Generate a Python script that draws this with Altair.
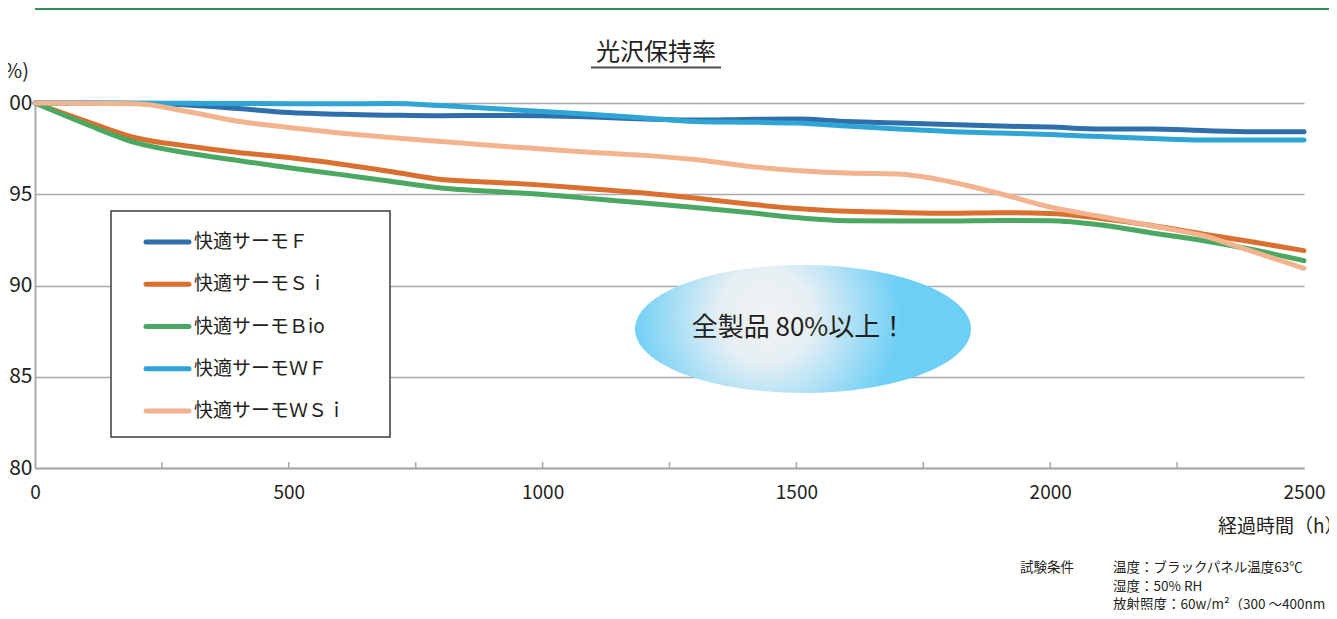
import altair as alt
import pandas as pd

hours = [0, 100, 200, 300, 400, 500, 600, 700, 800, 900, 1000, 1100, 1200,
         1300, 1400, 1500, 1600, 1700, 1800, 1900, 2000, 2100, 2200, 2300, 2400, 2500]

series = ["快適サーモＦ", "快適サーモＳｉ", "快適サーモＢio", "快適サーモＷＦ", "快適サーモＷＳｉ"]
colors = ["#2e6fac", "#d9702f", "#4aa862", "#2ea5d4", "#f2b38f"]

val_f = [100, 100, 99.97, 99.89, 99.70, 99.48, 99.38, 99.33, 99.30, 99.32, 99.30, 99.23, 99.13,
         99.07, 99.10, 99.12, 98.99, 98.90, 98.82, 98.74, 98.68, 98.58, 98.58, 98.49, 98.43, 98.43]
val_si = [100, 99.01, 98.08, 97.64, 97.29, 97.01, 96.66, 96.25, 95.81, 95.66, 95.50, 95.29, 95.07,
          94.79, 94.48, 94.22, 94.07, 94.00, 93.96, 93.99, 93.95, 93.67, 93.29, 92.83, 92.38, 91.91]
val_bio = [100, 98.85, 97.81, 97.26, 96.85, 96.45, 96.09, 95.71, 95.34, 95.16, 94.99, 94.75, 94.52,
           94.27, 94.01, 93.72, 93.55, 93.53, 93.53, 93.56, 93.55, 93.32, 92.88, 92.47, 91.96, 91.36]
val_wf = [100, 100, 100, 99.98, 99.97, 99.96, 99.96, 99.97, 99.86, 99.70, 99.53, 99.37, 99.18,
          98.99, 98.95, 98.90, 98.74, 98.58, 98.44, 98.36, 98.27, 98.16, 98.05, 97.97, 97.97, 97.97]
val_wsi = [100, 99.98, 99.96, 99.53, 99.00, 98.66, 98.36, 98.11, 97.89, 97.67, 97.48, 97.29, 97.13,
           96.90, 96.55, 96.30, 96.16, 96.11, 95.70, 95.04, 94.30, 93.78, 93.27, 92.74, 91.85, 90.94]

x_ticks = [0, 500, 1000, 1500, 2000, 2500]
minor_ticks = [250, 750, 1250, 1750, 2250, 500, 1000, 1500, 2000]
y_ticks = [80, 85, 90, 95, 100]

title_text = "光沢保持率"
y_unit = "(%)"
x_title = "経過時間（h）"
bubble_text = "全製品 80%以上！"
cond_label = "試験条件"
cond_lines = ["温度：ブラックパネル温度63℃", "湿度：50% RH", "放射照度：60w/m²（300 ～400nm"]

FONT = "Noto Sans CJK JP"
TXT = "#231f20"
GRAY = "#a7a9ac"

all_vals = [val_f, val_si, val_bio, val_wf, val_wsi]
rows = []
for name, vals in zip(series, all_vals):
    for h, v in zip(hours, vals):
        rows.append({"hour": h, "value": v, "series": name})
df = pd.DataFrame(rows)

color_scale = alt.Scale(domain=series, range=colors)
xscale = alt.Scale(domain=[0, 2500], nice=False, zero=False)
yscale = alt.Scale(domain=[80, 100], nice=False, zero=False)

lines = alt.Chart(df).mark_line(interpolate="monotone", strokeWidth=5, strokeCap="round").encode(
    x=alt.X("hour:Q", scale=xscale,
            axis=alt.Axis(values=x_ticks, title=None, grid=False, ticks=False, labelFontSize=19,
                          labelPadding=15, labelFlush=False, labelColor=TXT, labelFont=FONT,
                          domainColor=GRAY, domainWidth=2, format="d")),
    y=alt.Y("value:Q", scale=yscale,
            axis=alt.Axis(values=y_ticks, title=None, grid=True, gridColor=GRAY, gridWidth=1.5,
                          ticks=False, labelFontSize=21, labelPadding=3, labelColor=TXT,
                          labelFont=FONT, domainColor=GRAY, domainWidth=2, labelBaseline="middle",
                          format="d")),
    color=alt.Color("series:N", scale=color_scale, legend=None),
    detail="series:N",
)

tick_df = pd.DataFrame({"hour": minor_ticks})
ticks = alt.Chart(tick_df).mark_rule(color=GRAY, strokeWidth=1.5).encode(
    x=alt.X("hour:Q", scale=xscale),
    y=alt.Y(datum=80, scale=yscale),
    y2=alt.Y2(datum=80.33),
)

data_layer = alt.layer(lines, ticks)

one = pd.DataFrame({"k": [0]})

legend_box = alt.Chart(one).mark_rect(fill="white", stroke="#3b3b3b", strokeWidth=1.5).encode(
    x=alt.value(76), x2=alt.value(355), y=alt.value(108), y2=alt.value(334)
)

leg_df = pd.DataFrame({"series": series})
leg_y = alt.Y("series:N", sort=series,
              scale=alt.Scale(type="point", domain=series, range=[139, 308], padding=0),
              axis=None)
legend_lines = alt.Chart(leg_df).mark_rule(strokeWidth=5, strokeCap="round").encode(
    x=alt.value(111), x2=alt.value(154), y=leg_y,
    color=alt.Color("series:N", scale=color_scale, legend=None),
)
legend_text = alt.Chart(leg_df).mark_text(align="left", baseline="middle", fontSize=19,
                                          font=FONT, color=TXT).encode(
    x=alt.value(159), y=leg_y, text="series:N"
)

ellipse_path = ("M -1 0 C -1 -0.2104 -0.5523 -0.381 0 -0.381 C 0.5523 -0.381 1 -0.2104 1 0 "
                "C 1 0.2104 0.5523 0.381 0 0.381 C -0.5523 0.381 -1 0.2104 -1 0 Z")
grad = alt.RadialGradient(
    gradient="radial",
    stops=[alt.GradientStop(offset=0, color="#f1f2f3"),
           alt.GradientStop(offset=0.35, color="#e6eff4"),
           alt.GradientStop(offset=1, color="#6dcff6")],
    x1=0.39, y1=0.46, r1=0, x2=0.39, y2=0.46, r2=0.4,
)
bubble = alt.Chart(one).mark_point(shape=ellipse_path, size=112896, filled=True, fill=grad,
                                   opacity=1, strokeWidth=0).encode(
    x=alt.value(768), y=alt.value(226)
)
bubble_label = alt.Chart(one).mark_text(text=bubble_text, fontSize=26, font=FONT, color=TXT,
                                        align="center", baseline="middle").encode(
    x=alt.value(764), y=alt.value(225)
)

top_rule = alt.Chart(one).mark_rule(color="#2f9160", strokeWidth=2).encode(
    x=alt.value(0), x2=alt.value(1300), y=alt.value(-94)
)
title = alt.Chart(one).mark_text(text=title_text, fontSize=24, font=FONT, color=TXT,
                                 align="center", baseline="middle").encode(
    x=alt.value(621), y=alt.value(-50)
)
underline = alt.Chart(one).mark_rule(color="#4d4d4d", strokeWidth=2).encode(
    x=alt.value(556), x2=alt.value(686), y=alt.value(-35.5)
)
yunit = alt.Chart(one).mark_text(text=y_unit, fontSize=20, font=FONT, color=TXT,
                                 align="right", baseline="middle").encode(
    x=alt.value(-6), y=alt.value(-31)
)
xtitle = alt.Chart(one).mark_text(text=x_title, fontSize=19, font=FONT, color=TXT,
                                  align="left", baseline="middle").encode(
    x=alt.value(1183), y=alt.value(424)
)
cond1 = alt.Chart(one).mark_text(text=cond_label, fontSize=13.5, font=FONT, color=TXT,
                                 align="left", baseline="middle").encode(
    x=alt.value(985), y=alt.value(465)
)
cond_df = pd.DataFrame({"line": cond_lines})
cond2 = alt.Chart(cond_df).mark_text(fontSize=13.5, font=FONT, color=TXT,
                                     align="left", baseline="middle").encode(
    x=alt.value(1078),
    y=alt.Y("line:N", sort=cond_lines,
            scale=alt.Scale(type="point", domain=cond_lines, range=[465, 502], padding=0),
            axis=None),
    text="line:N",
)

chart = alt.layer(
    data_layer, legend_box, legend_lines, legend_text, bubble, bubble_label,
    top_rule, title, underline, yunit, xtitle, cond1, cond2
).resolve_scale(y="independent").properties(
    width=1269, height=365,
    padding={"left": 27, "top": 95, "right": 25, "bottom": 142},
    autosize=alt.AutoSizeParams(type="none"),
    background="white",
).configure_view(stroke=None)

chart.save("out.html", embed_options={"renderer": "svg", "actions": False})
